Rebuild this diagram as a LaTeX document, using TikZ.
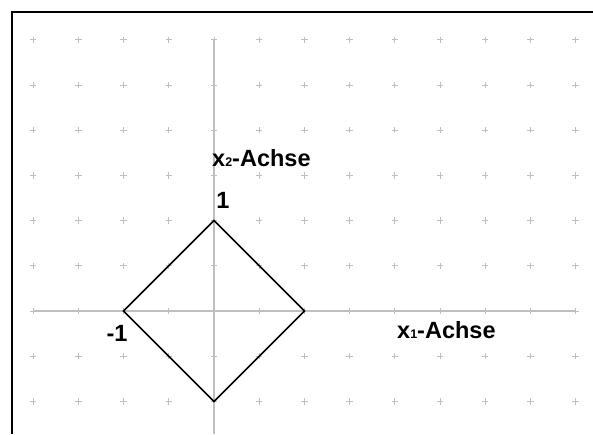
\documentclass[tikz,border=0pt]{standalone}
\usepackage{fontspec}
\setmainfont{Liberation Sans}
\begin{document}
\begin{tikzpicture}[x=1pt,y=-1pt,
  gridmark/.style={draw=black!25,line width=1pt},
  axisline/.style={draw=black!25,line width=1.8pt},
  framel/.style={draw=black,line width=2pt},
  diamondline/.style={draw=black,line width=1.6pt,line join=miter},
  lbl/.style={font=\fontsize{23.5}{25}\selectfont\bfseries,inner sep=0pt}]
\useasboundingbox (0,0) rectangle (593,434);
\def\u{45.2}
% grid crosses
\foreach \i in {-4,...,8}{
  \foreach \j in {-2,...,6}{
    \draw[gridmark] ({214+\i*\u-3.2},{311-\j*\u}) -- ++(6.4,0)
                    ({214+\i*\u},{311-\j*\u-3.2}) -- ++(0,6.4);
  }
}
% axes
\coordinate (xl) at (33.2,311);
\coordinate (xr) at (575.6,311);
\coordinate (yt) at (214,39.8);
\coordinate (yb) at (214,434);
\draw[axisline] (xl) -- (xr);
\draw[axisline] (yt) -- (yb);
% frame
\coordinate (f1) at (12,434);
\coordinate (f2) at (12,12);
\coordinate (f3) at (593,12);
\draw[framel] (f1) -- (f2) -- (f3);
% diamond
\coordinate (L) at (123.6,311);
\coordinate (T) at (214,220.6);
\coordinate (R) at (304.4,311);
\coordinate (B) at (214,401.4);
\draw[diamondline] (L) -- (T) -- (R) -- (B) -- cycle;
% labels
\node[lbl,anchor=west] (x2) at (212,158) {x{\fontsize{12.5}{12.5}\selectfont 2}-Achse};
\node[lbl,anchor=west] (x1) at (397,330) {x{\fontsize{12.5}{12.5}\selectfont 1}-Achse};
\node[lbl] (one) at (223,200) {1};
\node[lbl] (mone) at (117,333) {-1};
\end{tikzpicture}
\end{document}
